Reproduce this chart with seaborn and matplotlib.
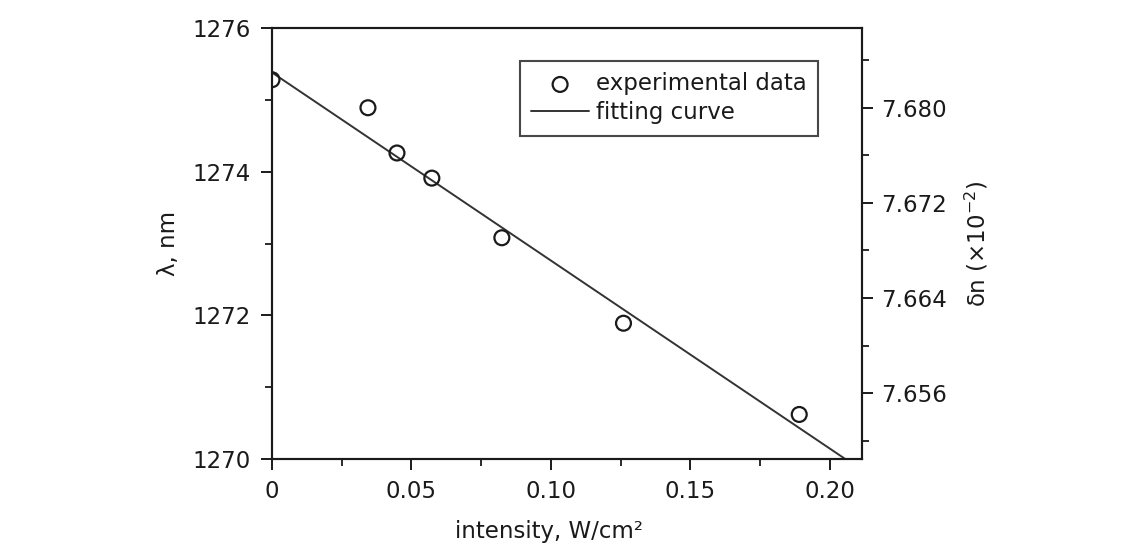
import matplotlib
matplotlib.use("Agg")
import matplotlib.pyplot as plt
from matplotlib.ticker import MultipleLocator, FixedLocator
import seaborn as sns
import pandas as pd

# Measured resonance wavelength versus pump intensity
intensity = [0.0, 0.0344, 0.0448, 0.0573, 0.0824, 0.126, 0.189]
wavelength = [1275.28, 1274.89, 1274.26, 1273.91, 1273.08, 1271.89, 1270.62]

# Linear fit through the data
fit_intensity = [0.0, 0.2055]
fit_wavelength = [1275.38, 1270.0]

x_ticks = [0, 0.05, 0.10, 0.15, 0.20]
x_tick_labels = ["0", "0.05", "0.10", "0.15", "0.20"]
y_ticks = [1270, 1272, 1274, 1276]
dn_ticks = [7.656, 7.664, 7.672, 7.680]
dn_tick_labels = ["7.656", "7.664", "7.672", "7.680"]
dn_minor_ticks = [7.652, 7.660, 7.668, 7.676, 7.684]

data = pd.DataFrame({"intensity": intensity, "wavelength": wavelength})
fit = pd.DataFrame({"intensity": fit_intensity, "wavelength": fit_wavelength})

sns.set_theme(style="ticks")
plt.rcParams["font.family"] = ["DejaVu Sans"]
plt.rcParams["mathtext.fontset"] = "dejavusans"

FS = 16.5
ink = "#1a1a1a"

W, H = 1143, 551
L, R, T, B = 272, 862, 28, 459
fig = plt.figure(figsize=(W / 100, H / 100), dpi=100)
ax = fig.add_axes([L / W, 1 - B / H, (R - L) / W, (B - T) / H])

sns.lineplot(data=fit, x="intensity", y="wavelength", ax=ax, color="#333333",
             linewidth=1.4, label="fitting curve", zorder=2)
sns.scatterplot(data=data, x="intensity", y="wavelength", ax=ax, marker="o",
                s=115, facecolor="none", edgecolor=ink, linewidth=1.6,
                label="experimental data", zorder=3)
# keep the markers inside the plotting frame
for coll in ax.collections:
    coll.set_clip_on(True)
    coll.set_clip_path(ax.patch)

ax.set_xlim(0, 0.2115)
ax.set_ylim(1270, 1276)
ax.set_xticks(x_ticks)
ax.set_xticklabels(x_tick_labels)
ax.set_yticks(y_ticks)
ax.xaxis.set_minor_locator(MultipleLocator(0.025))
ax.yaxis.set_minor_locator(MultipleLocator(1))

ax.set_xlabel("intensity, W/cm²", fontsize=FS, color=ink)
ax.xaxis.set_label_coords((549 - L) / (R - L), (B - 520) / (B - T))
ax.set_ylabel("λ, nm", fontsize=FS, color=ink)
ax.yaxis.set_label_coords((180 - L) / (R - L), 0.5)

for side in ["left", "right", "top", "bottom"]:
    ax.spines[side].set_linewidth(1.5)
    ax.spines[side].set_color(ink)
ax.tick_params(which="major", direction="out", length=8, width=1.4,
               labelsize=FS, colors=ink, pad=7)
ax.tick_params(which="minor", direction="out", length=5, width=1.3, colors=ink)
ax.tick_params(top=False, right=False, which="both")

# Secondary scale: refractive index change
ax2 = ax.twinx()
ax2.set_ylim(7.65046, 7.68671)
ax2.yaxis.set_major_locator(FixedLocator(dn_ticks))
ax2.set_yticklabels(dn_tick_labels)
ax2.yaxis.set_minor_locator(FixedLocator(dn_minor_ticks))
ax2.tick_params(which="major", direction="out", length=8, width=1.4,
                labelsize=FS, colors=ink, pad=6)
ax2.tick_params(which="minor", direction="out", length=5, width=1.3, colors=ink)
ax2.set_ylabel(r"δn (×10$^{-2}$)", fontsize=FS, color=ink)
ax2.yaxis.set_label_coords((963 - L) / (R - L), 0.5)
for side in ["left", "right", "top", "bottom"]:
    ax2.spines[side].set_linewidth(1.5)
    ax2.spines[side].set_color(ink)

# Legend: marker entry first, then the line
handles, labels = ax.get_legend_handles_labels()
order = [labels.index("experimental data"), labels.index("fitting curve")]
leg = ax.legend([handles[i] for i in order], [labels[i] for i in order],
                loc="upper left",
                bbox_to_anchor=((520 - L) / (R - L), 1 - (61 - T) / (B - T)),
                fontsize=FS, frameon=True, fancybox=False, borderpad=0.5,
                handlelength=2.5, handletextpad=0.3, labelspacing=0.25,
                borderaxespad=0)
leg.get_frame().set_edgecolor(ink)
leg.get_frame().set_linewidth(1.5)
for t in leg.get_texts():
    t.set_color(ink)

fig.savefig("out.png", dpi=100, facecolor="white")
